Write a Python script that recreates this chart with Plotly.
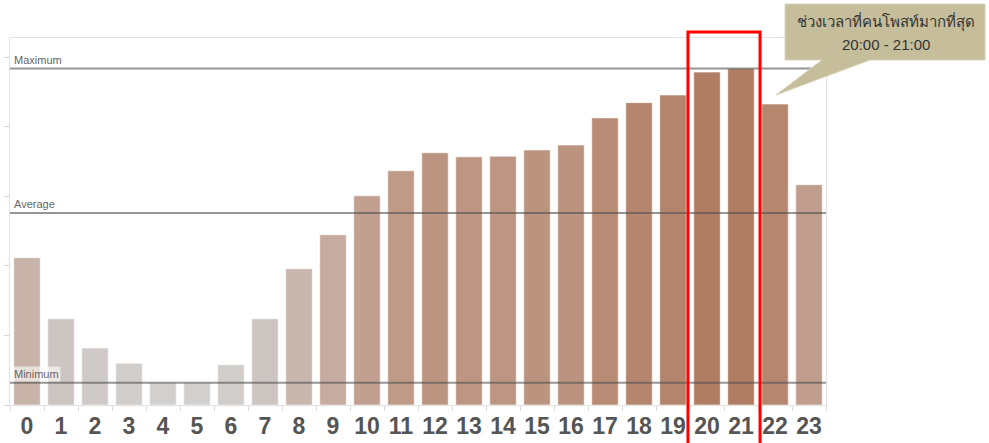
import plotly.graph_objects as go

# Posts per hour of the day (0-23)
hours = list(range(24))
hour_labels = [str(h) for h in hours]
posts = [212, 124, 82, 60, 32, 32, 58, 124, 196, 245, 301, 337,
         363, 357, 358, 367, 374, 413, 435, 446, 479, 484, 433, 317]
peak_hours = [20, 21]
callout_lines = ["ช่วงเวลาที่คนโพสท์มากที่สุด", "20:00 - 21:00"]

W, H = 989, 443
ML, MR, MT, MB = 10, 163, 38, 38
plot_w = W - ML - MR
plot_h = H - MT - MB


def px(xp):
    return (xp - ML) / plot_w


def py(yp):
    return (H - MB - yp) / plot_h


fig = go.Figure()
fig.add_trace(go.Bar(
    x=hours, y=posts,
    marker=dict(
        color=posts,
        colorscale=[[0.0, "#d2d0ce"], [0.2, "#ccc5c1"], [0.4, "#c8b3a9"],
                    [0.6, "#c1a090"], [0.8, "#b98f79"], [1.0, "#b07c62"]],
        cmin=min(posts), cmax=max(posts),
        line=dict(color="rgba(255,255,255,0.6)", width=1),
    ),
    hoverinfo="x+y", showlegend=False,
))

ref_lines = [("Maximum", max(posts)),
             ("Average", sum(posts) / len(posts)),
             ("Minimum", min(posts))]
shapes = []
annotations = []
for name, val in ref_lines:
    shapes.append(dict(type="line", xref="paper", yref="y", x0=0, x1=1, y0=val, y1=val,
                       line=dict(color="rgba(80,80,80,0.6)", width=2), layer="above"))
    annotations.append(dict(text=name, xref="paper", yref="y", x=0, y=val,
                            xanchor="left", yanchor="bottom", xshift=2, yshift=1,
                            showarrow=False,
                            font=dict(family="Liberation Sans, Arial", size=11, color="#666"),
                            bgcolor="rgba(255,255,255,0.6)" if name == "Minimum" else None))

# highlight box around the peak hours
shapes.append(dict(type="rect", xref="x", yref="paper",
                   x0=peak_hours[0] - 0.56, x1=peak_hours[-1] + 0.56,
                   y0=-0.2, y1=py(32),
                   line=dict(color="#ff0000", width=3), layer="above"))

# speech-bubble callout
pts = [(785, 4), (985, 4), (985, 60), (870, 60), (776, 95), (822, 60), (785, 60)]
path = "M " + " L ".join(f"{px(a):.4f},{py(b):.4f}" for a, b in pts) + " Z"
shapes.append(dict(type="path", xref="paper", yref="paper", path=path,
                   fillcolor="#c6be9b", line=dict(color="#d8d2b8", width=1), layer="above"))
for line_text, ly in zip(callout_lines, (21, 45)):
    annotations.append(dict(text=line_text, xref="paper", yref="paper",
                            x=px(886), y=py(ly), xanchor="center", yanchor="middle",
                            showarrow=False,
                            font=dict(family="Liberation Sans, Arial, sans-serif",
                                      size=15, color="#333")))

fig.update_layout(
    width=W, height=H,
    margin=dict(l=ML, r=MR, t=MT, b=MB),
    paper_bgcolor="white", plot_bgcolor="white",
    bargap=0.22,
    shapes=shapes, annotations=annotations,
    xaxis=dict(
        automargin=False,
        range=[-0.5, 23.5], tickvals=hours, ticktext=hour_labels,
        ticks="", showgrid=False, zeroline=False,
        showline=True, linecolor="#e2e2e2", mirror=True,
        tickfont=dict(family="Liberation Sans, Arial", size=23, color="#555", weight="bold"),
        ticklabelstandoff=0,
        minor=dict(tick0=-0.5, dtick=1, ticks="outside", ticklen=5, tickcolor="#dcdcdc",
                   showgrid=False),
    ),
    yaxis=dict(
        automargin=False,
        range=[0, 528], dtick=100, showticklabels=False,
        ticks="outside", ticklen=5, tickcolor="#d5d5d5",
        showgrid=False, zeroline=False,
        showline=True, linecolor="#e2e2e2", mirror=True,
    ),
)

fig.write_html("out.html")
